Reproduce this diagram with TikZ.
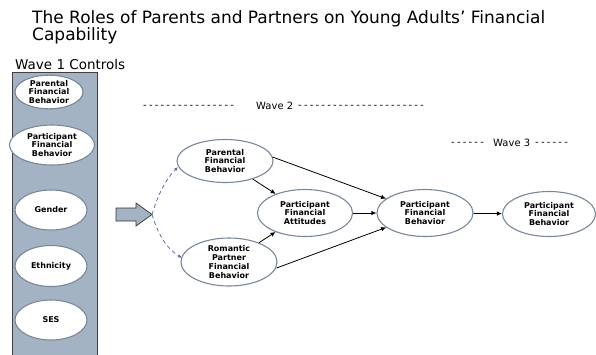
\documentclass[tikz,border=0pt]{standalone}
\usepackage{fontspec}
\setmainfont{DejaVu Sans}[Ligatures=TeXOff]
\newfontfamily\dashfont{DejaVu Sans}[Ligatures=TeXOff,LetterSpace=22]
\usetikzlibrary{shapes.geometric,arrows.meta}
\definecolor{boxfill}{HTML}{A3B3C4}
\definecolor{ellline}{HTML}{7A8799}
\definecolor{dashc}{HTML}{6A6AA8}
\tikzset{
  var/.style={ellipse,draw=ellline,line width=1.1pt,fill=white,inner sep=0pt,align=center,
    font=\fontsize{8}{8.8}\selectfont\bfseries},
  path/.style={-{Latex[length=5pt,width=4.5pt]},line width=0.8pt},
  dpath/.style={-{Latex[length=4pt,width=3.5pt]},draw=dashc,dashed,dash pattern=on 4pt off 3pt,line width=0.8pt},
  lbl/.style={font=\fontsize{10}{12}\selectfont,inner sep=0pt},
  dlbl/.style={font=\fontsize{10}{12}\dashfont,inner sep=0pt},
}
\begin{document}
\begin{tikzpicture}[x=1pt,y=-1pt]
\useasboundingbox (0,0) rectangle (596,354);
\node[lbl,anchor=north west,align=left,font=\fontsize{17}{16}\selectfont] (title) at (32,10)
  {The Roles of Parents and Partners on Young Adults’ Financial\\Capability};
\node[lbl,anchor=west,font=\fontsize{13.5}{15}\selectfont] (w1) at (15,64) {Wave 1 Controls};
\path[fill=boxfill,draw=black!75,line width=0.8pt] (12,72) -- (97,72) -- (97,356) -- (12,356) -- cycle;
\node[var,minimum width=68pt,minimum height=31pt] (c1) at (49,92) {Parental\\Financial\\Behavior};
\node[var,minimum width=85pt,minimum height=40pt] (c2) at (52,145) {Participant\\Financial\\Behavior};
\node[var,minimum width=72pt,minimum height=40pt] (c3) at (51,210) {Gender};
\node[var,minimum width=72pt,minimum height=41pt] (c4) at (51,266) {Ethnicity};
\node[var,minimum width=72pt,minimum height=40pt] (c5) at (51,320) {SES};
% block arrow
\path[fill=boxfill,draw=black!80,line width=0.7pt] (116,208) -- (136,208) -- (136,203) -- (152,214.5) -- (136,226) -- (136,221) -- (116,221) -- cycle;
\coordinate (split) at (152,214.5);
\node[dlbl,anchor=west] (w2a) at (143,107) {----------------};
\node[lbl,anchor=west] (w2) at (256,106) {Wave 2};
\node[dlbl,anchor=west] (w2b) at (298,107) {----------------------};
\node[dlbl,anchor=west] (w3a) at (451,144) {------};
\node[lbl,anchor=west] (w3) at (493,143) {Wave 3};
\node[dlbl,anchor=west] (w3b) at (535,144) {------};
\node[var,minimum width=96pt,minimum height=43pt] (pp) at (225,161) {Parental\\Financial\\Behavior};
\node[var,minimum width=96pt,minimum height=48pt] (rp) at (229,262) {Romantic\\Partner\\Financial\\Behavior};
\node[var,minimum width=95pt,minimum height=47pt] (pa) at (305,213) {Participant\\Financial\\Attitudes};
\node[var,minimum width=96pt,minimum height=47pt] (pb) at (425,213) {Participant\\Financial\\Behavior};
\node[var,minimum width=93pt,minimum height=45pt] (pb3) at (549,214) {Participant\\Financial\\Behavior};
\draw[dpath] (split) .. controls (158,195) and (165,180) .. (178,167);
\draw[dpath] (split) .. controls (158,234) and (166,248) .. (182,258);
\draw[path] (pp) -- (pa);
\draw[path] (pp.east) ++(-1,-4) -- (pb);
\draw[path] (pa) -- (pb);
\draw[path] (rp) -- (pa);
\draw[path] (rp.east) ++(-1,6) -- (pb);
\draw[path] (pb) -- (pb3);
\end{tikzpicture}
\end{document}
